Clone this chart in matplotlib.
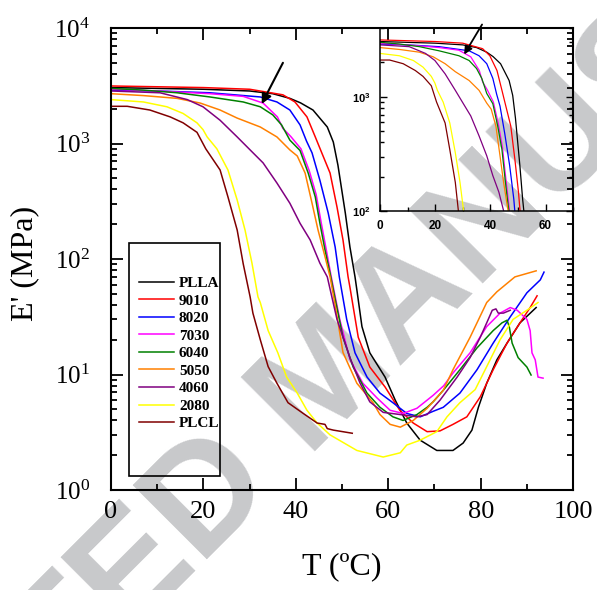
import numpy as np
import matplotlib.pyplot as plt
from matplotlib.patches import Rectangle
from matplotlib.ticker import LogLocator, MultipleLocator, NullFormatter

plt.rcParams['font.family'] = 'Liberation Serif'

# storage modulus E' (MPa) versus temperature T (C)
t_plla = [0, 10, 20, 30, 35, 38.7, 41, 43.7, 46.8, 48.1, 49.1, 50.7, 51.7, 52.8, 53.2, 54.3, 56,
          59.3, 61.5, 64, 66.9, 70.5, 74, 76.2, 78.1, 79.5, 81.3, 83.5, 85.7, 88.5, 92]
e_plla = [3050, 3000, 2950, 2850, 2700, 2460, 2250, 1950, 1390, 1030, 650, 250, 127, 70, 54, 26, 15.4,
          9.5, 6.0, 3.8, 2.7, 2.2, 2.2, 2.55, 3.3, 5.2, 8.4, 13.4, 18.7, 28, 38]

t_9010 = [0, 10, 20, 30, 37.2, 39.8, 42.4, 44.2, 45.5, 47.4, 48.9, 50.2, 51.3, 51.7, 53.5, 56, 59.3,
          62.5, 65.4, 68.4, 71.2, 74, 77, 79.9, 82.7, 85.7, 88.5, 90.7, 92.2]
e_9010 = [3150, 3100, 3050, 2950, 2640, 2290, 1700, 1140, 850, 555, 282, 146, 70, 57, 21, 11.6, 7.8,
          4.9, 3.8, 3.2, 3.25, 3.7, 4.3, 6.4, 11, 18.7, 28, 38, 48]

t_8020 = [0, 10, 21.4, 32.3, 35.9, 38.7, 40.9, 42.3, 43.5, 45.2, 47, 48.5, 49.4, 51, 52.8, 55.4, 58.2,
          61, 64, 66.9, 69.7, 71.9, 75.5, 79.2, 82.7, 86.4, 90, 92.9, 93.7]
e_8020 = [2900, 2850, 2750, 2530, 2290, 1950, 1450, 1050, 830, 480, 250, 127, 70, 30, 15.4, 9.5, 6.9,
          5.7, 4.6, 4.3, 4.8, 5.2, 6.9, 11, 18.7, 31.6, 51, 66, 77]

t_7030 = [0, 10, 21.4, 28.6, 32.9, 36, 37.2, 38.9, 41.1, 42.9, 44.4, 45.4, 46.5, 47.6, 49.5, 51.7, 54.5,
          57.5, 60.4, 63.2, 66.2, 69.7, 72, 74, 77.7, 81.3, 84.2, 86.4, 87.9, 90, 90.7, 91.1, 91.8, 92.4, 93.5]
e_7030 = [2950, 2850, 2700, 2560, 2240, 1700, 1350, 1150, 900, 580, 360, 215, 125, 72, 30, 13.5, 8.4,
          6.3, 4.9, 4.6, 5.1, 6.6, 8, 10.3, 15.4, 26, 34, 38, 36, 30, 24, 15.4, 13.4, 9.5, 9.3]

t_6040 = [0, 7, 14.3, 21.4, 28.6, 32.3, 35, 36.9, 38.7, 40.9, 42.7, 44.2, 45.2, 46.3, 47.4, 48.5, 50.2,
          52.4, 55.4, 58.2, 61, 63.2, 66.2, 68.4, 69.7, 71.9, 75.5, 79.2, 82.7, 84.6, 85.7, 86.2, 86.8,
          88.1, 90, 90.9]
e_6040 = [3000, 2900, 2750, 2530, 2290, 2080, 1770, 1450, 1070, 870, 550, 345, 204, 120, 75, 45, 21,
          11.6, 6.9, 5.2, 4.3, 4.0, 4.5, 5.2, 5.8, 7.3, 11, 17, 24, 28, 29.5, 25.7, 18.7,
          14, 11.6, 9.9]

t_5050 = [0, 7, 14.3, 19.3, 23.6, 27.3, 32.3, 35.9, 38.7, 40.3, 42, 43.5, 44.8, 46.3, 47.4, 48.5, 50.2,
          53.2, 56.7, 58.2, 60.4, 62.6, 65.4, 68.4, 70.5, 71.9, 74, 77.7, 81.3, 83.5, 87.4, 92]
e_5050 = [2700, 2600, 2460, 2240, 1950, 1660, 1390, 1140, 880, 780, 555, 304, 178, 105, 70, 40, 15.5,
          8.4, 5.7, 4.5, 3.7, 3.5, 4.0, 5.1, 6.3, 7.3, 11, 21, 42, 52, 70, 79]

t_4060 = [0, 10.6, 16.5, 19.9, 23.6, 27.3, 30.1, 32.9, 35.9, 38.7, 40.9, 43.1, 45.2, 46.8, 48.9, 51.7,
          53.9, 56, 58.9, 62.6, 66.2, 68.4, 71.2, 74.9, 77.7, 79.9, 81.3, 82.5, 83.3, 83.8, 84.9, 86.4]
e_4060 = [2850, 2750, 2400, 2080, 1590, 1140, 880, 680, 455, 304, 204, 146, 92, 70, 30, 14,
          8.4, 5.8, 4.7, 4.5, 4.3, 4.5, 6.0, 9.5, 14, 21, 28, 36, 37, 34, 34, 36]

t_2080 = [0, 7, 12.1, 15.6, 18.6, 19.9, 20.8, 22.9, 25.3, 27.3, 29, 30.5, 31.8, 32.3, 34, 36.1, 38,
          40.3, 42.4, 44.6, 47.4, 53.2, 58.9, 62.6, 64, 66.9, 70.5, 72.7, 75.5, 78.8, 81.3, 84.2, 87,
          90, 92.4]
e_2080 = [2400, 2290, 2080, 1820, 1510, 1320, 1140, 900, 590, 324, 178, 92, 47, 42, 24, 15.4, 9.5,
          6.9, 4.9, 3.8, 3.0, 2.2, 1.93, 2.1, 2.45, 2.7, 3.2, 4.3, 5.7, 7.4, 11.7, 20, 30,
          36, 42]

t_plcl = [0, 3.5, 8.4, 12.8, 15.6, 18.6, 20.5, 23.6, 25.3, 27.3, 28.6, 30.1, 30.7, 32.3, 34, 35.9,
          38.3, 41.6, 44.6, 46.3, 46.8, 48.1, 52.2]
e_plcl = [2100, 2100, 1950, 1700, 1510, 1250, 900, 590, 345, 178, 91, 47, 34, 20, 11.7, 8.4,
          5.7, 4.6, 3.8, 3.7, 3.4, 3.3, 3.1]

labels = ['PLLA', '9010', '8020', '7030', '6040', '5050', '4060', '2080', 'PLCL']
colors = ['black', '#ff0000', '#0000ff', '#ff00ff', '#008000', '#ff8000', '#800080', '#ffff00', '#800000']
temps = [t_plla, t_9010, t_8020, t_7030, t_6040, t_5050, t_4060, t_2080, t_plcl]
moduli = [e_plla, e_9010, e_8020, e_7030, e_6040, e_5050, e_4060, e_2080, e_plcl]

fig = plt.figure(figsize=(5.97, 5.9), dpi=100)

# grey stamp behind everything
fig.text(0.55, 0.352, 'ACCEPTED MANUSCRIPT', rotation=45, fontsize=110,
         family='Liberation Sans', weight='bold', color='#c8c9cb',
         ha='center', va='center', zorder=-1)

ax = fig.add_axes([0.186, 0.1695, 0.774, 0.783])
ax.set_facecolor('none')
handles = []
for lab, c, t, e in zip(labels, colors, temps, moduli):
    h, = ax.plot(t, e, color=c, lw=1.1, label=lab)
    handles.append(h)

ax.set_yscale('log')
ax.set_xlim(0, 100)
ax.set_ylim(1, 1e4)
ax.xaxis.set_major_locator(MultipleLocator(20))
ax.xaxis.set_minor_locator(MultipleLocator(10))
ax.yaxis.set_major_locator(LogLocator(base=10))
ax.yaxis.set_minor_locator(LogLocator(base=10, subs=np.arange(2, 10)))
ax.yaxis.set_minor_formatter(NullFormatter())
ax.tick_params(which='both', direction='in', top=True, right=True, width=1.3)
ax.tick_params(which='major', length=8.5)
ax.tick_params(which='minor', length=4)
ax.tick_params(axis='x', labelsize=19, pad=8)
ax.tick_params(axis='y', labelsize=18, pad=15)
for s in ax.spines.values():
    s.set_linewidth(1.5)

ax.set_xlabel('T (ºC)', fontsize=23)
ax.set_ylabel("E' (MPa)", fontsize=23)
ax.xaxis.set_label_coords(0.5, -0.135)
ax.yaxis.set_label_coords(-0.155, 0.49)

ax.annotate('', xy=(32.6, 2200), xytext=(37.2, 5000),
            arrowprops=dict(arrowstyle='-|>', color='k', lw=1.5, mutation_scale=15,
                            shrinkA=0, shrinkB=0))

ax.add_patch(Rectangle((0.039, 0.030), 0.197, 0.505, transform=ax.transAxes,
                       fill=False, lw=1.2, ec='k', zorder=4))
ax.legend(handles=handles, loc='upper left', bbox_to_anchor=(0.061, 0.462),
          frameon=False, borderpad=0, borderaxespad=0, handlelength=2.3,
          handletextpad=0.3, labelspacing=0.25,
          prop={'family': 'Liberation Serif', 'weight': 'bold', 'size': 11})

# zoom on the glassy region
ins = fig.add_axes([0.6365, 0.6424, 0.3235, 0.310])
ins.set_facecolor('none')
for c, t, e in zip(colors, temps, moduli):
    ins.plot(t, e, color=c, lw=0.9)
ins.set_yscale('log')
ins.set_xlim(0, 70)
ins.set_ylim(100, 4000)
ins.set_xticks([0, 20, 40, 60], labels=['0', '20', '40', '60'],
               family='Liberation Sans', weight='bold', size=8.5)
ins.xaxis.set_minor_locator(MultipleLocator(10))
ins.set_yticks([100, 1000], labels=[r'$\mathdefault{10^{2}}$', r'$\mathdefault{10^{3}}$'],
               family='Liberation Sans', weight='bold', size=8)
ins.yaxis.set_minor_locator(LogLocator(base=10, subs=np.arange(2, 10)))
ins.yaxis.set_minor_formatter(NullFormatter())
ins.tick_params(which='both', direction='in', right=True, width=1.0)
ins.tick_params(axis='x', pad=6.5)
ins.tick_params(axis='y', pad=7)
ins.tick_params(which='major', length=5)
ins.tick_params(which='minor', length=3)
for s in ins.spines.values():
    s.set_linewidth(1.1)
ins.annotate('', xy=(30.5, 2350), xytext=(37, 4300), annotation_clip=False,
             arrowprops=dict(arrowstyle='-|>', color='k', lw=1.3, mutation_scale=12,
                             shrinkA=0, shrinkB=0, clip_on=False))

fig.savefig('out.png', dpi=100)
